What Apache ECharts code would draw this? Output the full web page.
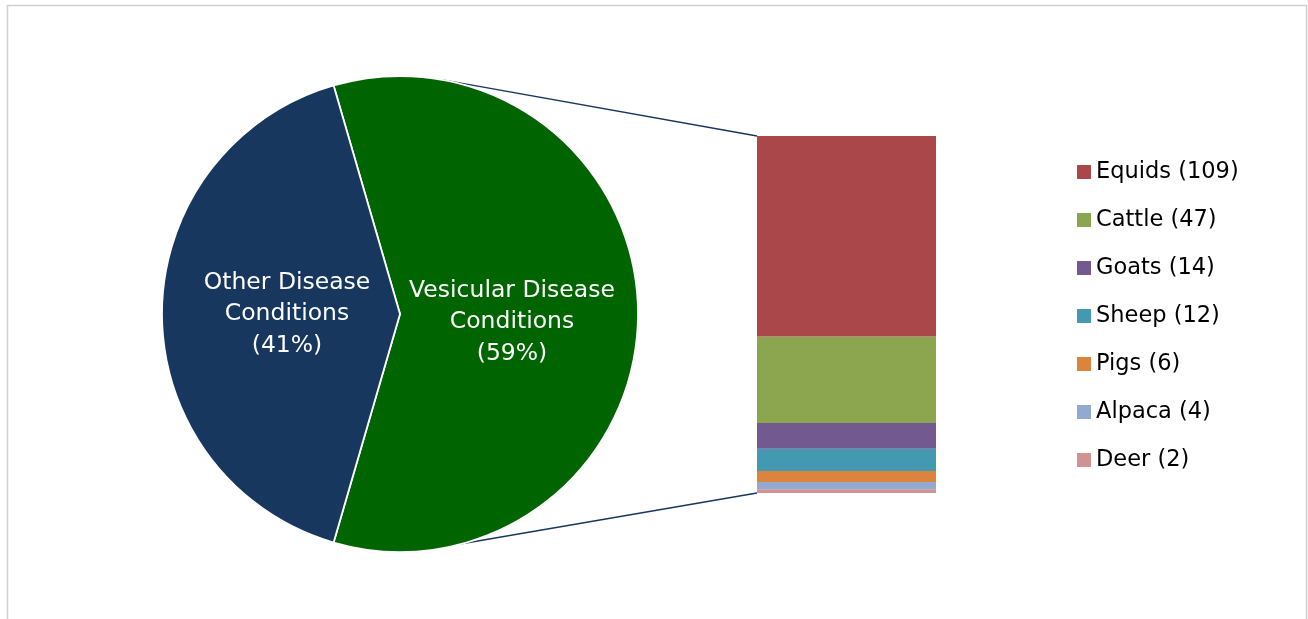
<!DOCTYPE html>
<html><head><meta charset="utf-8">
<script src="https://cdn.jsdelivr.net/npm/echarts@6/dist/echarts.min.js"></script>
<style>html,body{margin:0;padding:0;background:#fff}#c{width:1308px;height:619px}</style>
</head><body><div id="c"></div>
<script>
const pieNames = ['Vesicular Disease\nConditions', 'Other Disease\nConditions'];
const piePercents = [59, 41];
const pieColors = ['#006400', '#17375E'];
const barNames = ['Equids', 'Cattle', 'Goats', 'Sheep', 'Pigs', 'Alpaca', 'Deer'];
const barValues = [109, 47, 14, 12, 6, 4, 2];
const barColors = ['#A9474A', '#8BA64F', '#725A91', '#4299B0', '#DC843D', '#93A9D0', '#D09394'];

const FONT = 'DejaVu Sans, Liberation Sans, Arial, sans-serif';
const total = barValues.reduce((a, b) => a + b, 0);
const chart = echarts.init(document.getElementById('c'));

const pieCenter = [400, 314], pieR = 238;
const greenSpan = piePercents[0] / (piePercents[0] + piePercents[1]) * 360;

// stacked bar: bottom first
const barSeries = [];
for (let i = barNames.length - 1; i >= 0; i--) {
  barSeries.push({
    type: 'bar', name: barNames[i] + ' (' + barValues[i] + ')', stack: 's',
    data: [barValues[i]], barWidth: '100%',
    xAxisIndex: 0, yAxisIndex: 0,
    itemStyle: { color: barColors[i] }, silent: true
  });
}

chart.setOption({
  animation: false,
  backgroundColor: '#fff',
  grid: { left: 757, top: 136, width: 179, height: 357, containLabel: false },
  xAxis: { type: 'category', data: ['v'], show: false },
  yAxis: { type: 'value', min: 0, max: total, show: false },
  legend: {
    orient: 'vertical', left: 1077, top: 160, padding: 0,
    icon: 'rect', itemWidth: 14, itemHeight: 14, itemGap: 24,
    textStyle: { fontFamily: FONT, fontSize: 22.5, color: '#000', lineHeight: 24 },
    data: barNames.map((n, i) => n + ' (' + barValues[i] + ')'),
    selectedMode: false
  },
  series: [
    {
      type: 'pie', center: pieCenter, radius: pieR,
      startAngle: greenSpan / 2, clockwise: true,
      silent: true,
      itemStyle: { borderColor: '#fff', borderWidth: 1.8 },
      label: {
        position: 'inner', color: '#fff', fontFamily: FONT, fontSize: 23.5, lineHeight: 31.5,
        formatter: p => p.name + '\n(' + p.value + '%)'
      },
      labelLine: { show: false },
      labelLayout: p => (p.dataIndex === 0 ? { dx: -5, dy: 4 } : { dx: 4.5, dy: 0 }),
      data: pieNames.map((n, i) => ({ name: n, value: piePercents[i], itemStyle: { color: pieColors[i] } }))
    },
    ...barSeries
  ]
});

function drawDecor() {
  const top = chart.convertToPixel({ gridIndex: 0 }, ['v', total]);
  const bot = chart.convertToPixel({ gridIndex: 0 }, ['v', 0]);
  const barLeft = 757;
  const a1 = 80 * Math.PI / 180, a2 = -86 * Math.PI / 180;
  const p1 = [pieCenter[0] + pieR * Math.cos(a1), pieCenter[1] - pieR * Math.sin(a1)];
  const p2 = [pieCenter[0] + pieR * Math.cos(a2), pieCenter[1] - pieR * Math.sin(a2)];
  chart.setOption({
    graphic: [
      { type: 'rect', shape: { x: 7.5, y: 5.5, width: 1299, height: 700 }, style: { fill: 'none', stroke: '#D0D0D0', lineWidth: 1.5 }, z: 0, silent: true },
      { type: 'line', shape: { x1: p1[0], y1: p1[1], x2: barLeft, y2: top[1] }, style: { stroke: '#17375E', lineWidth: 1.5 }, silent: true },
      { type: 'line', shape: { x1: p2[0], y1: p2[1], x2: barLeft, y2: bot[1] }, style: { stroke: '#17375E', lineWidth: 1.5 }, silent: true }
    ]
  });
}
drawDecor();
</script>
</body></html>
